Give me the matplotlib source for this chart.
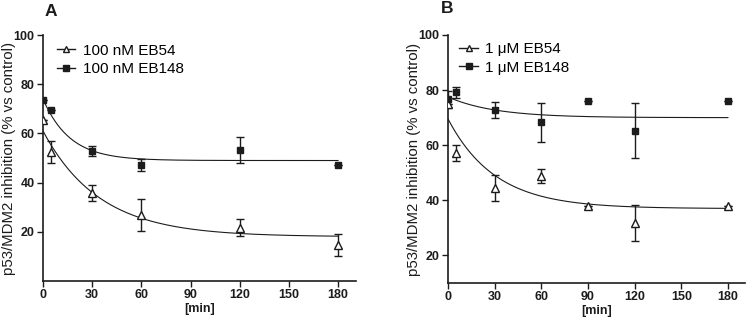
"""
p53/MDM2 inhibition over time: two panels (A: 100 nM, B: 1 uM).
Points are means with error bars; lines are one-phase decay fits.
"""

import numpy as np
import matplotlib

matplotlib.use("Agg")
import matplotlib.pyplot as plt

plt.rcParams["font.family"] = ["Liberation Sans", "DejaVu Sans"]

_INK = "#1c1c1c"

# ── Data ──────────────────────────────────────────────────────────────────────

# Panel A
a_eb54_t = [0, 5, 30, 60, 120, 180]
a_eb54_y = [65.5, 52.3, 35.8, 26.8, 21.6, 14.8]
a_eb54_err = [0, 4.5, 3.4, 6.4, 3.5, 4.5]

a_eb148_t = [0, 5, 30, 60, 120, 180]
a_eb148_y = [73.5, 69.5, 52.8, 47.2, 53.4, 47.2]
a_eb148_err = [0, 0, 2.0, 2.5, 5.3, 0]

# Panel B
b_eb54_t = [0, 5, 30, 60, 90, 120, 180]
b_eb54_y = [74.8, 57.2, 44.4, 48.7, 37.9, 31.8, 37.9]
b_eb54_err = [0, 3.0, 4.7, 2.5, 0, 6.6, 0]

b_eb148_t = [0, 5, 30, 60, 90, 120, 180]
b_eb148_y = [76.6, 79.2, 72.8, 68.3, 76.1, 65.3, 76.1]
b_eb148_err = [3.2, 2.0, 3.0, 7.2, 0, 10.0, 0]

# One-phase decay fit parameters: (Y0, plateau, k per min)
a_eb54_fit = (61.0, 18.0, 0.029)
a_eb148_fit = (74.0, 49.0, 0.061)
b_eb54_fit = (69.5, 37.0, 0.033)
b_eb148_fit = (77.5, 70.0, 0.033)

x_ticks = [0, 30, 60, 90, 120, 150, 180]
y_ticks = [20, 40, 60, 80, 100]


def _decay(params, t):
    y0, plateau, k = params
    return plateau + (y0 - plateau) * np.exp(-k * t)


def _panel(fig, rect, ymin, letter, letter_xy, series, legend_xy, ylabel_x):
    ax = fig.add_axes(rect)
    t_fit = np.linspace(0, 180, 300)
    handles = []
    for t, y, err, fit, marker, face, label in series:
        ax.plot(t_fit, _decay(fit, t_fit), color=_INK, lw=0.8, zorder=2)
        ax.errorbar(t, y, yerr=err, fmt="none", ecolor=_INK, elinewidth=1.0,
                    capsize=3, capthick=1.0, zorder=3)
        ax.plot(t, y, ls="none", marker=marker, ms=6 if marker == "^" else 5,
                mfc=face, mec=_INK, mew=1.0, zorder=4)
        h, = ax.plot([], [], color=_INK, lw=1.0, marker=marker,
                     ms=5 if marker == "^" else 4.5, mfc=face, mec=_INK,
                     mew=1.0, label=label)
        handles.append(h)

    ax.set_xlim(0, 191)
    ax.set_ylim(ymin, 100)
    ax.set_xticks(x_ticks)
    ax.set_yticks(y_ticks)
    ax.spines[["top", "right"]].set_visible(False)
    for side in ("left", "bottom"):
        ax.spines[side].set_linewidth(1.2)
        ax.spines[side].set_color(_INK)
    ax.tick_params(direction="out", length=4, width=1.0, colors=_INK,
                   labelsize=9, pad=2)
    for lbl in ax.get_xticklabels() + ax.get_yticklabels():
        lbl.set_fontweight("bold")
    ax.set_xlabel("[min]", fontsize=9, fontweight="bold", color=_INK, labelpad=1)
    ax.set_ylabel("p53/MDM2 inhibition (% vs control)", fontsize=10.8,
                  color=_INK)
    ax.yaxis.set_label_coords(ylabel_x, 0.5)

    fig.legend(handles=handles, loc="upper left", bbox_to_anchor=legend_xy,
               frameon=False, fontsize=11, handlelength=1.2,
               handletextpad=0.5, labelspacing=0.3, borderpad=0)
    fig.text(letter_xy[0], letter_xy[1], letter, fontsize=12.5,
             fontweight="bold", color=_INK, ha="left", va="center")
    return ax


fig = plt.figure(figsize=(7.48, 3.21), dpi=100)

_panel(fig, [0.0575, 0.1246, 0.4185, 0.766], 0, "A", (0.060, 0.963),
       [(a_eb54_t, a_eb54_y, a_eb54_err, a_eb54_fit, "^", "white", "100 nM EB54"),
        (a_eb148_t, a_eb148_y, a_eb148_err, a_eb148_fit, "s", _INK, "100 nM EB148")],
       (0.066, 0.888), -0.086)

_panel(fig, [0.599, 0.1184, 0.397, 0.7726], 10, "B", (0.589, 0.975),
       [(b_eb54_t, b_eb54_y, b_eb54_err, b_eb54_fit, "^", "white", "1 μM EB54"),
        (b_eb148_t, b_eb148_y, b_eb148_err, b_eb148_fit, "s", _INK, "1 μM EB148")],
       (0.604, 0.893), -0.091)

fig.savefig("out.png", dpi=100)
